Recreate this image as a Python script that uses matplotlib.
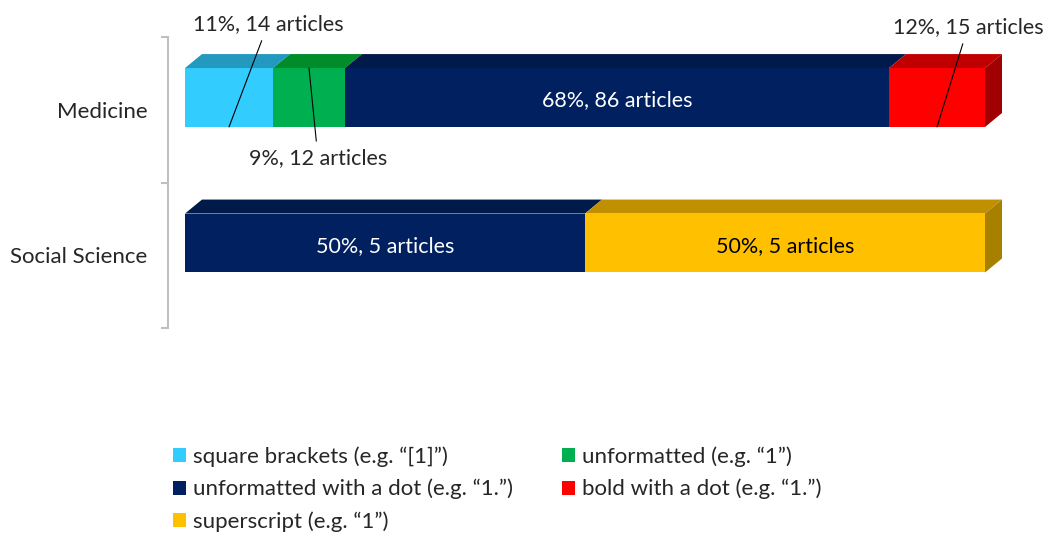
import matplotlib
matplotlib.use("Agg")
import matplotlib.pyplot as plt
from matplotlib.patches import Polygon, Patch

plt.rcParams['font.family'] = ['Lato', 'DejaVu Sans']

# data
categories = ["Medicine", "Social Science"]
series = ["square brackets (e.g. \u201c[1]\u201d)", "unformatted (e.g. \u201c1\u201d)",
          "unformatted with a dot (e.g. \u201c1.\u201d)", "bold with a dot (e.g. \u201c1.\u201d)",
          "superscript (e.g. \u201c1\u201d)"]
medicine_pct = [11, 9, 68, 12, 0]
social_pct = [0, 0, 50, 0, 50]
medicine_n = [14, 12, 86, 15, 0]
social_n = [0, 0, 5, 0, 5]

front_colors = ["#33CCFF", "#00B050", "#002060", "#FF0000", "#FFC000"]
top_colors = ["#2399BF", "#008C28", "#001A4A", "#C00000", "#C09000"]
side_colors = ["#1F85A8", "#007020", "#00143A", "#A00000", "#A88000"]
label_colors = ["black", "black", "white", "black", "black"]

W, H = 1049, 536
fig = plt.figure(figsize=(W / 100, H / 100), dpi=100)
ax = fig.add_axes([168 / W, 1 - 328 / H, 834 / W, 291 / H])
ax.set_xlim(-2.125, 102.125)
ax.set_ylim(1.5, -0.5)

bar_h = 0.405
shift = -0.084
dx, dy = 2.125, 0.0962
fs = 15.5

# outside labels: (category, series) -> anchor edge, pixel offset of text
outside = {(0, 0): ("bottom", (39, 103)),
           (0, 1): ("top", (9, -90)),
           (0, 3): ("bottom", (31, 100))}

for ci, (pcts, counts) in enumerate([(medicine_pct, medicine_n), (social_pct, social_n)]):
    yc = ci + shift
    top = yc - bar_h / 2
    bottom = yc + bar_h / 2
    left = 0
    last = max(i for i, p in enumerate(pcts) if p > 0)
    for si, p in enumerate(pcts):
        if p == 0:
            continue
        ax.barh(yc, p, left=left, height=bar_h, color=front_colors[si], edgecolor='none')
        ax.add_patch(Polygon([(left, top), (left + p, top), (left + p + dx, top - dy), (left + dx, top - dy)],
                             closed=True, facecolor=top_colors[si], edgecolor='none', clip_on=False))
        if si == last:
            r = left + p
            ax.add_patch(Polygon([(r, top), (r + dx, top - dy), (r + dx, bottom - dy), (r, bottom)],
                                 closed=True, facecolor=side_colors[si], edgecolor='none', clip_on=False))
        txt = f"{p}%, {counts[si]} articles"
        cx = left + p / 2
        if (ci, si) in outside:
            where, off = outside[(ci, si)]
            ay = bottom if where == "bottom" else top
            ax.annotate(txt, xy=(cx, ay), xytext=off, textcoords='offset pixels', ha='center', va='center',
                        fontsize=fs, color='#262626', annotation_clip=False,
                        arrowprops=dict(arrowstyle='-', color='black', lw=0.8, shrinkA=3, shrinkB=0))
        else:
            ax.annotate(txt, xy=(cx, yc), xytext=(0, -3), textcoords='offset pixels',
                        ha='center', va='center', fontsize=fs, color=label_colors[si])
        left += p

for s in ["top", "right", "bottom"]:
    ax.spines[s].set_visible(False)
ax.spines["left"].set_color("#BFBFBF")
ax.spines["left"].set_linewidth(1.5)
ax.set_xticks([])
ax.set_yticks([0, 1])
ax.set_yticklabels(categories, fontsize=16, color='#262626')
ax.tick_params(axis='y', which='major', length=0, pad=15)
ax.set_yticks([-0.5, 0.5, 1.5], minor=True)
ax.tick_params(axis='y', which='minor', length=5, width=1.5, color="#BFBFBF")

order = [0, 2, 4, 1, 3]
handles = [Patch(facecolor=front_colors[i], edgecolor='none') for i in order]
labels = [series[i] for i in order]
fig.legend(handles, labels, loc='upper left', bbox_to_anchor=(173 / W, 1 - 446 / H), ncol=2, frameon=False,
           fontsize=16, handlelength=0.6, handleheight=0.6, handletextpad=0.3, columnspacing=2.2,
           labelspacing=0.55, borderaxespad=0, borderpad=0, labelcolor='#262626')

fig.savefig("out.png", dpi=100)
